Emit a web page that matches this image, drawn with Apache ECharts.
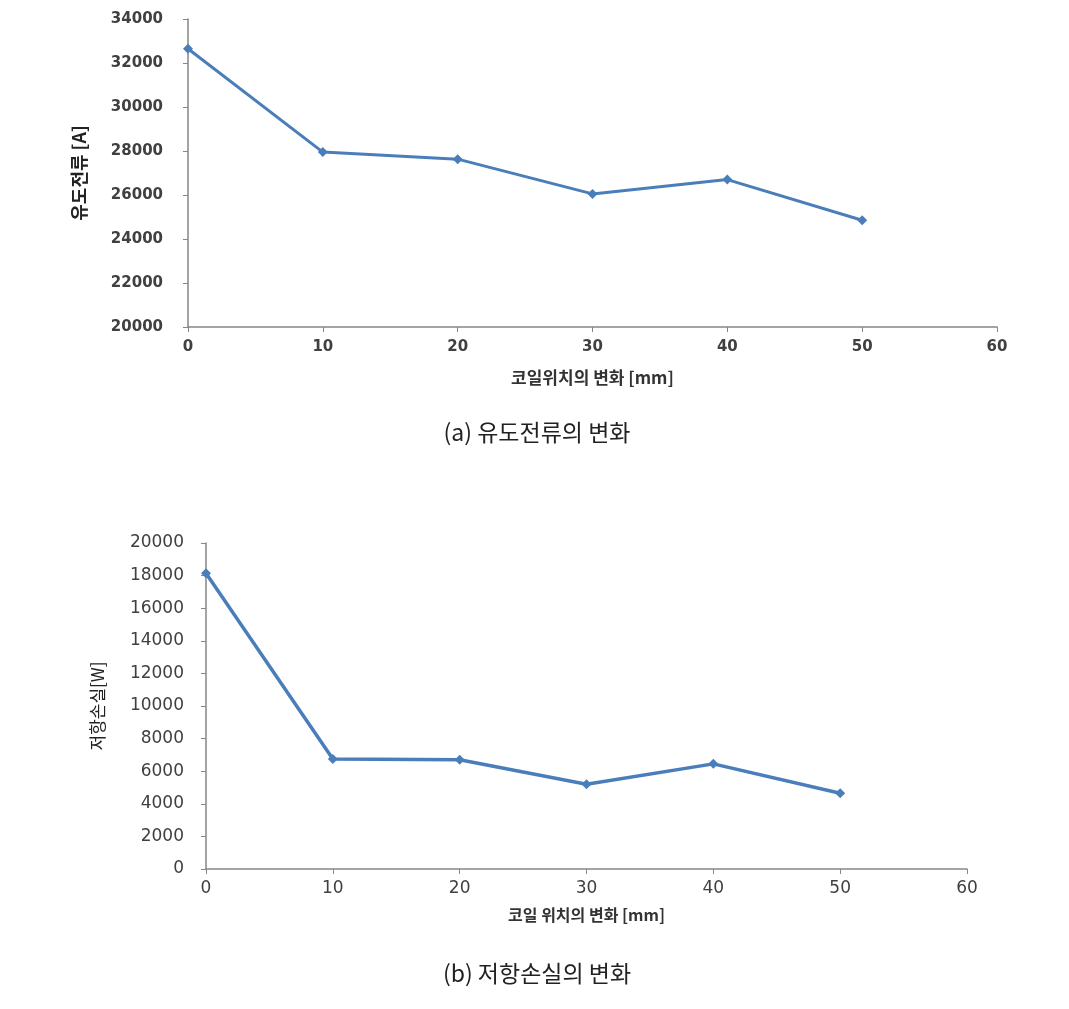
<!DOCTYPE html>
<html>
<head>
<meta charset="utf-8">
<script src="https://cdn.jsdelivr.net/npm/echarts@6/dist/echarts.min.js"></script>
<style>html,body{margin:0;padding:0;background:#fff}#c{width:1069px;height:1009px}</style>
</head>
<body>
<div id="c"></div>
<script>
// Data
const positions = [0, 10, 20, 30, 40, 50];            // coil position [mm]
const inducedCurrent = [32650, 27950, 27630, 26050, 26700, 24850]; // 유도전류 [A]
const resistLoss = [18150, 6750, 6700, 5200, 6450, 4650];          // 저항손실 [W]
const xTicks = {min: 0, max: 60, interval: 10};
const yTicksA = {min: 20000, max: 34000, interval: 2000};
const yTicksB = {min: 0, max: 20000, interval: 2000};

const lineColor = '#4a7ebb';
const axisColor = '#868686';
const kr = '"Noto Sans CJK KR", "DejaVu Sans", sans-serif';
const numFont = '"DejaVu Sans", Verdana, sans-serif';

const chart = echarts.init(document.getElementById('c'), null, {renderer: 'canvas'});

function xAxis(gridIndex, name, bold, fs, nameFs, nameGap, margin) {
  return {
    type: 'value', gridIndex, min: xTicks.min, max: xTicks.max, interval: xTicks.interval,
    name, nameLocation: 'middle', nameGap,
    nameTextStyle: {fontFamily: kr, fontWeight: 'bold', fontSize: nameFs, color: '#333'},
    axisLine: {show: true, onZero: false, lineStyle: {color: axisColor, width: 1.5}},
    axisTick: {show: true, length: 5, lineStyle: {color: axisColor}},
    axisLabel: {margin, formatter: v => String(v), fontFamily: numFont, fontWeight: bold ? 'bold' : 'normal', fontSize: fs, color: '#404040'},
    splitLine: {show: false}
  };
}
function yAxis(gridIndex, t, name, bold, fs, nameFs, nameGap, margin, nameBold) {
  return {
    type: 'value', gridIndex, min: t.min, max: t.max, interval: t.interval,
    name, nameLocation: 'middle', nameRotate: 90, nameGap,
    nameTextStyle: {fontFamily: kr, fontWeight: nameBold ? 'bold' : 'normal', fontSize: nameFs, color: '#222'},
    axisLine: {show: true, lineStyle: {color: axisColor, width: 1.5}},
    axisTick: {show: true, length: 5, lineStyle: {color: axisColor}},
    axisLabel: {margin, formatter: v => String(v), fontFamily: numFont, fontWeight: bold ? 'bold' : 'normal', fontSize: fs, color: '#404040'},
    splitLine: {show: false}
  };
}

chart.setOption({
  animation: false,
  backgroundColor: '#fff',
  title: [
    {text: '(a) 유도전류의 변화', left: 532, top: 416, textAlign: 'center',
     textStyle: {fontFamily: kr, fontWeight: 'normal', fontSize: 23, color: '#222'}},
    {text: '(b) 저항손실의 변화', left: 532, top: 957, textAlign: 'center',
     textStyle: {fontFamily: kr, fontWeight: 'normal', fontSize: 23, color: '#222'}}
  ],
  grid: [
    {left: 188, right: 72, top: 19, height: 308},
    {left: 206, right: 102, top: 543, height: 326}
  ],
  xAxis: [
    xAxis(0, '코일위치의 변화 [mm]', true, 15, 17, 42, 13),
    xAxis(1, '코일 위치의 변화 [mm]', false, 17, 16, 38, 11)
  ],
  yAxis: [
    yAxis(0, yTicksA, '유도전류 [A]', true, 15, 18, 100, 25, true),
    yAxis(1, yTicksB, '저항손실[W]', false, 17, 17, 100, 22, false)
  ],
  series: [
    {type: 'line', xAxisIndex: 0, yAxisIndex: 0, data: positions.map((p, i) => [p, inducedCurrent[i]]),
     symbol: 'diamond', symbolSize: 10, lineStyle: {color: lineColor, width: 3}, itemStyle: {color: lineColor}},
    {type: 'line', xAxisIndex: 1, yAxisIndex: 1, data: positions.map((p, i) => [p, resistLoss[i]]),
     symbol: 'diamond', symbolSize: 10, lineStyle: {color: lineColor, width: 3.5}, itemStyle: {color: lineColor}}
  ]
});
</script>
</body>
</html>
